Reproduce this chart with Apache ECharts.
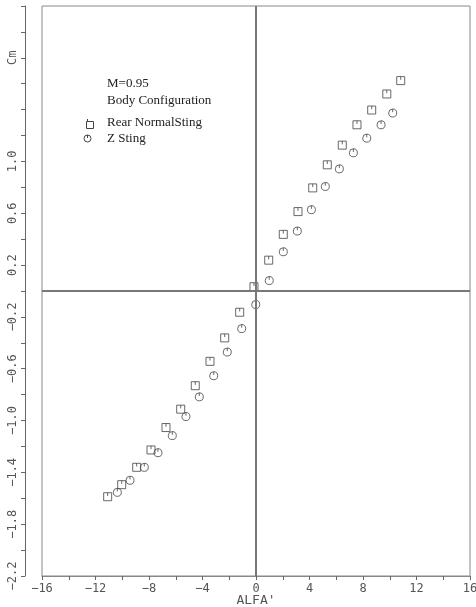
<!DOCTYPE html>
<html><head><meta charset="utf-8">
<script src="https://cdn.jsdelivr.net/npm/echarts@6/dist/echarts.min.js"></script>
<style>html,body{margin:0;padding:0;background:#fff}#c{width:476px;height:607px}</style>
</head><body><div id="c"></div>
<script>
var rearX = [-11.09,-10.04,-8.92,-7.85,-6.73,-5.63,-4.54,-3.44,-2.34,-1.22,-0.15,0.95,2.04,3.14,4.24,5.33,6.45,7.55,8.65,9.78,10.82];
var rearY = [-1.588,-1.495,-1.361,-1.227,-1.054,-0.912,-0.731,-0.543,-0.362,-0.164,0.033,0.238,0.437,0.613,0.796,0.974,1.126,1.283,1.397,1.521,1.624];
var zX = [-10.37,-9.42,-8.35,-7.33,-6.26,-5.24,-4.24,-3.16,-2.15,-1.07,-0.02,0.99,2.04,3.09,4.14,5.18,6.23,7.28,8.28,9.35,10.22];
var zY = [-1.554,-1.461,-1.361,-1.248,-1.116,-0.969,-0.817,-0.654,-0.471,-0.290,-0.104,0.081,0.303,0.463,0.628,0.807,0.943,1.067,1.180,1.283,1.374];
var yLabels = ['-2.2','-1.8','-1.4','-1.0','-0.6','-0.2','0.2','0.6','1.0'];
var xLabels = ['-16','-12','-8','-4','0','4','8','12','16'];
var titleLines = ['M=0.95','Body Configuration'];
var legendNames = ['Rear NormalSting','Z Sting'];
var yName = 'Cm', xName = "ALFA'";

function pairs(xs, ys){ return xs.map(function(x,i){return [x, ys[i]];}); }
var sqPath = 'path://M0,0 L10,0 L10,10 L0,10 Z M5,0 L5,4';
var ciPath = 'path://M5,0 A5,5 0 1 1 4.99,0 Z M5,0 L5,4';
var axCol = '#666';
var labFont = {color:'#555', fontFamily:'DejaVu Sans Mono', fontSize:12, fontWeight:'lighter'};

var chart = echarts.init(document.getElementById('c'));
chart.setOption({
  animation:false,
  grid:{left:42, right:6, top:6, bottom:31, show:true, borderColor:'#888', borderWidth:1, containLabel:false, outerBoundsMode:'none'},
  xAxis:{type:'value', min:-16, max:16, interval:2,
    axisLine:{show:true, onZero:false, lineStyle:{color:'#888'}},
    axisTick:{show:true, length:4, lineStyle:{color:axCol}},
    splitLine:{show:false},
    axisLabel:Object.assign({margin:7, formatter:function(v){var s=String(Math.round(v)); return xLabels.indexOf(s)>=0? s.replace('-','\u2212'):'';}}, labFont),
    name:xName, nameLocation:'middle', nameGap:18, nameMoveOverlap:false,
    nameTextStyle:{color:'#555', fontFamily:'DejaVu Sans Mono', fontSize:13, fontWeight:'lighter', lineHeight:13}
  },
  yAxis:{type:'value', min:-2.2, max:2.2, interval:0.2, offset:17,
    axisLine:{show:true, onZero:false, lineStyle:{color:axCol}},
    axisTick:{show:true, length:4, lineStyle:{color:axCol}},
    splitLine:{show:false},
    axisLabel:Object.assign({rotate:90, margin:6, formatter:function(v){var s=(Math.round(v*10)/10).toFixed(1); if(s==='1.8') return yName; return yLabels.indexOf(s)>=0? s.replace('-','\u2212'):'';}}, labFont)
  },
  graphic:[
    {type:'text', left:107, top:77, style:{text:titleLines[0], font:'13px "Liberation Serif"', fill:'#222'}},
    {type:'text', left:107, top:94, style:{text:titleLines[1], font:'13px "Liberation Serif"', fill:'#222'}},
    {type:'text', left:107, top:116, style:{text:legendNames[0], font:'13px "Liberation Serif"', fill:'#222'}},
    {type:'text', left:107, top:132, style:{text:legendNames[1], font:'13px "Liberation Serif"', fill:'#222'}},
    {type:'rect', left:84, top:119, shape:{width:7,height:7}, style:{fill:'none', stroke:'#444', lineWidth:1}},
    {type:'line', shape:{x1:87.5,y1:119,x2:87.5,y2:122}, style:{stroke:'#444', lineWidth:1}},
    {type:'circle', shape:{cx:87.5,cy:138.5,r:3.5}, style:{fill:'none', stroke:'#444', lineWidth:1}},
    {type:'line', shape:{x1:87.5,y1:135,x2:87.5,y2:138}, style:{stroke:'#444', lineWidth:1}}
  ],
  series:[
    {type:'scatter', name:legendNames[0], data:pairs(rearX, rearY), symbol:sqPath, symbolSize:[8,8],
     itemStyle:{color:'rgba(0,0,0,0)', borderColor:'#444', borderWidth:1},
     markLine:{silent:true, symbol:'none', label:{show:false}, lineStyle:{color:'#777', width:2, type:'solid'},
       data:[{xAxis:0},{yAxis:0}]}
    },
    {type:'scatter', name:legendNames[1], data:pairs(zX, zY), symbol:ciPath, symbolSize:[8,8],
     itemStyle:{color:'rgba(0,0,0,0)', borderColor:'#444', borderWidth:1}}
  ]
});
</script></body></html>
